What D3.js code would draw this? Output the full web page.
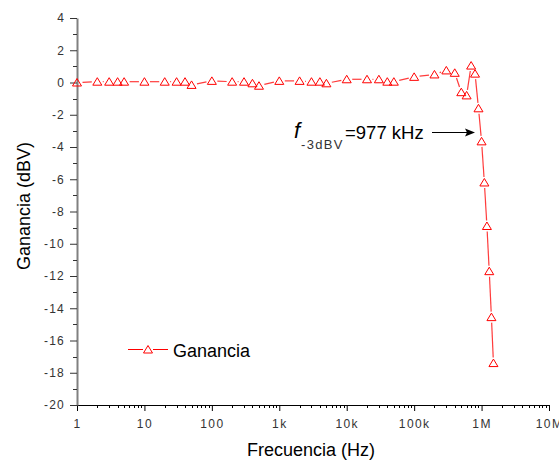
<!DOCTYPE html>
<html>
<head>
<meta charset="utf-8">
<script src="https://cdn.jsdelivr.net/npm/d3@7"></script>
<style>
  body { margin: 0; background: #fff; }
  svg { font-family: "Liberation Sans", Arial, sans-serif; }
</style>
</head>
<body>
<div id="chart"></div>
<script>
// frequency points (Hz) and measured gain (dBV)
var freqs = [1, 2, 3, 4, 5, 10, 20, 30, 40, 50,
  100, 200, 300, 400, 500, 1e3, 2e3, 3e3, 4e3, 5e3,
  1e4, 2e4, 3e4, 4e4, 5e4, 1e5, 2e5, 3e5, 4e5, 5e5,
  6e5, 7e5, 8e5, 9e5, 1e6, 1.1e6, 1.2e6, 1.3e6, 1.4e6, 1.5e6];
var gain = [0.0, 0.05, 0.05, 0.05, 0.05, 0.05, 0.05, 0.05, 0.05, -0.15,
  0.1, 0.05, 0.05, -0.05, -0.2, 0.1, 0.1, 0.05, 0.05, -0.05,
  0.2, 0.2, 0.2, 0.05, 0.05, 0.35, 0.5, 0.75, 0.6, -0.6,
  -0.8, 1.05, 0.55, -1.6, -3.65, -6.2, -8.9, -11.7, -14.55, -17.4];

var xTicks = [1, 10, 100, 1e3, 1e4, 1e5, 1e6, 1e7];
var xTickLabels = ["1", "10", "100", "1k", "10k", "100k", "1M", "10M"];
var yTicks = [4, 2, 0, -2, -4, -6, -8, -10, -12, -14, -16, -18, -20];
var yMinor = [3, 1, -1, -3, -5, -7, -9, -11, -13, -15, -17, -19];

var W = 559, H = 461;
var svg = d3.select("#chart").append("svg")
  .attr("width", W)
  .attr("height", H);

var x = d3.scaleLog().domain([1, 1e7]).range([77, 549]);
var y = d3.scaleLinear().domain([-20, 4]).range([405, 18]);

// minor ticks for log axis: 2..9 within each decade
var xMinor = [];
xTicks.slice(0, -1).forEach(function(d) {
  for (var k = 2; k <= 9; k++) xMinor.push(d * k);
});

// bottom axis
var gx = svg.append("g").attr("transform", "translate(0,405)");
gx.call(d3.axisBottom(x).tickValues(xTicks).tickSize(6).tickSizeOuter(0)
  .tickFormat(function(d, i) { return xTickLabels[i]; }));
gx.select(".domain").attr("stroke", "#000").attr("stroke-width", 1);
gx.selectAll(".tick line").attr("stroke", "#000");
gx.selectAll(".tick text")
  .attr("y", 14)
  .attr("font-size", 12)
  .attr("letter-spacing", 1.4)
  .attr("fill", "#333")
  .attr("font-family", "Liberation Sans, Arial, sans-serif");
gx.selectAll(".minor").data(xMinor).enter().append("line")
  .attr("class", "minor")
  .attr("x1", function(d) { return Math.round(x(d)) + 0.5; })
  .attr("x2", function(d) { return Math.round(x(d)) + 0.5; })
  .attr("y1", 0).attr("y2", 3)
  .attr("stroke", "#000");

// left axis
var gy = svg.append("g").attr("transform", "translate(77,0)");
gy.call(d3.axisLeft(y).tickValues(yTicks).tickSize(7).tickSizeOuter(0)
  .tickFormat(function(d) { return String(d); }));
gy.select(".domain").attr("stroke", "#808080").attr("stroke-width", 2);
gy.selectAll(".tick line").attr("stroke", "#333");
gy.selectAll(".tick text")
  .attr("x", -12)
  .attr("font-size", 12)
  .attr("letter-spacing", 1.2)
  .attr("fill", "#333")
  .attr("font-family", "Liberation Sans, Arial, sans-serif");
gy.selectAll(".minor").data(yMinor).enter().append("line")
  .attr("class", "minor")
  .attr("x1", -4).attr("x2", 0)
  .attr("y1", function(d) { return Math.round(y(d)) + 0.5; })
  .attr("y2", function(d) { return Math.round(y(d)) + 0.5; })
  .attr("stroke", "#333");

// axis titles
svg.append("text")
  .attr("x", 311).attr("y", 456)
  .attr("text-anchor", "middle")
  .attr("font-size", 18)
  .text("Frecuencia (Hz)");
svg.append("text")
  .attr("transform", "translate(30,206) rotate(-90)")
  .attr("text-anchor", "middle")
  .attr("font-size", 18)
  .text("Ganancia (dBV)");

// data line: segments with gaps around markers
var pts = freqs.map(function(f, i) { return [x(f), y(gain[i])]; });
var gap = 5.5;
var segs = [];
for (var i = 0; i < pts.length - 1; i++) {
  var a = pts[i], b = pts[i + 1];
  var dx = b[0] - a[0], dy = b[1] - a[1];
  var len = Math.sqrt(dx * dx + dy * dy);
  if (len <= 2 * gap) continue;
  var ux = dx / len, uy = dy / len;
  segs.push([a[0] + ux * gap, a[1] + uy * gap, b[0] - ux * gap, b[1] - uy * gap]);
}
svg.append("g").selectAll("line").data(segs).enter().append("line")
  .attr("x1", function(d) { return d[0]; })
  .attr("y1", function(d) { return d[1]; })
  .attr("x2", function(d) { return d[2]; })
  .attr("y2", function(d) { return d[3]; })
  .attr("stroke", "#ff3c3c")
  .attr("stroke-width", 1.2);

var tri = "M0,-4L4.5,3.5L-4.5,3.5Z";
svg.append("g").selectAll("path").data(pts).enter().append("path")
  .attr("transform", function(d) { return "translate(" + d[0] + "," + d[1] + ")"; })
  .attr("d", tri)
  .attr("fill", "none")
  .attr("stroke", "#ff0000")
  .attr("stroke-width", 1);

// annotation
svg.append("text")
  .attr("x", 294).attr("y", 138)
  .attr("font-size", 22)
  .attr("font-style", "italic")
  .text("f");
svg.append("text")
  .attr("x", 301).attr("y", 149)
  .attr("font-size", 13)
  .attr("letter-spacing", 1.3)
  .attr("fill", "#333")
  .text("-3dBV");
svg.append("text")
  .attr("x", 345).attr("y", 138.5)
  .attr("font-size", 18.5)
  .text("=977 kHz");
svg.append("line")
  .attr("x1", 432).attr("y1", 132.5)
  .attr("x2", 468).attr("y2", 132.5)
  .attr("stroke", "#000").attr("stroke-width", 1);
svg.append("path")
  .attr("d", "M475,132.5L465,128.5L467,132.5L465,136.5Z")
  .attr("fill", "#000");

// legend
var lg = svg.append("g");
lg.append("line").attr("x1", 128).attr("x2", 143).attr("y1", 349.5).attr("y2", 349.5)
  .attr("stroke", "#ff0000");
lg.append("line").attr("x1", 153).attr("x2", 168).attr("y1", 349.5).attr("y2", 349.5)
  .attr("stroke", "#ff0000");
lg.append("path").attr("transform", "translate(148,349.5)").attr("d", tri)
  .attr("fill", "none").attr("stroke", "#ff0000");
lg.append("text").attr("x", 173).attr("y", 356.5).attr("font-size", 18).text("Ganancia");
</script>
</body>
</html>
